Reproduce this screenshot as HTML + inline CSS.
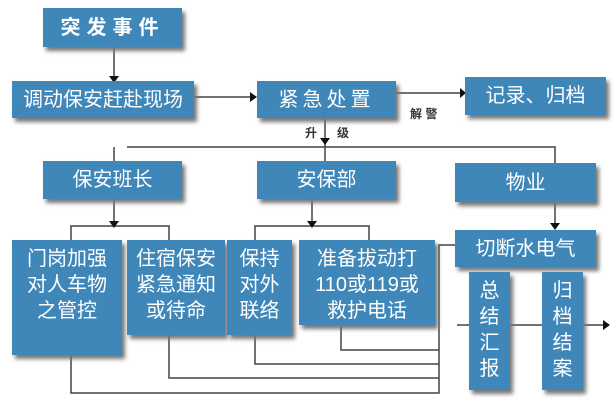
<!DOCTYPE html>
<html><head><meta charset="utf-8"><style>
body{margin:0;background:#fff;width:615px;height:414px;overflow:hidden;position:relative;font-family:"Liberation Sans","Noto Sans CJK SC",sans-serif}
.b{position:absolute;background:#3f86b9;color:#fff;box-shadow:3px 4px 4px #777;display:flex;align-items:center;justify-content:center;text-align:center;font-size:20px;line-height:26px}
.l{position:absolute;background:#555}
.t{position:absolute;font-size:12px;color:#333;font-weight:bold}
</style></head><body>
<svg style="position:absolute;left:0;top:0" width="615" height="414">
<g stroke="#444" stroke-width="1.5" fill="none">
<path d="M114 47V79"/>
<path d="M194 97H250"/>
<path d="M396 93H460"/>
<path d="M325 118V161"/>
<path d="M127 147H555V163"/>
<path d="M114 147V161"/>
<path d="M114 199V224"/>
<path d="M71 240V226H169V240"/>
<path d="M312 199V224"/>
<path d="M255 240V226H369V240"/>
<path d="M555 202V228"/>
<path d="M455 245H439V393H71V355"/>
<path d="M169 335V378H439"/>
<path d="M255 335V364H439"/>
<path d="M341 325V350H439"/>
<path d="M457 325H469M510 325H542M583 325H603"/>
</g>
<g fill="#111">
<path d="M109 76L119 76L114 83Z"/>
<path d="M250 92L250 102L257 97Z"/>
<path d="M460 88L460 98L466 93Z"/>
<path d="M320 138L330 138L325 145Z"/>
<path d="M109 221L119 221L114 228Z"/>
<path d="M307 221L317 221L312 228Z"/>
<path d="M550 223L560 223L555 230Z"/>
<path d="M603 320L603 330L610 325Z"/>
</g>
</svg>
<div class="b" style="left:43px;top:8px;width:139px;height:39px;font-weight:bold;letter-spacing:6px">突发事件</div>
<div class="b" style="left:12px;top:81px;width:182px;height:37px">调动保安赶赴现场</div>
<div class="b" style="left:257px;top:81px;width:139px;height:37px;letter-spacing:4px">紧急处置</div>
<div class="b" style="left:465px;top:77px;width:141px;height:38px">记录、归档</div>
<div class="t" style="left:410px;top:105px">解 警</div>
<div class="t" style="left:305px;top:124px">升</div>
<div class="t" style="left:337px;top:124px">级</div>
<div class="b" style="left:43px;top:161px;width:139px;height:38px">保安班长</div>
<div class="b" style="left:257px;top:161px;width:139px;height:38px">安保部</div>
<div class="b" style="left:455px;top:163px;width:141px;height:39px">物业</div>
<div class="b" style="left:12px;top:240px;width:110px;height:115px;align-items:flex-start;padding-top:6px;box-sizing:border-box">门岗加强<br>对人车物<br>之管控</div>
<div class="b" style="left:127px;top:240px;width:98px;height:95px;align-items:flex-start;padding-top:6px;box-sizing:border-box">住宿保安<br>紧急通知<br>或待命</div>
<div class="b" style="left:227px;top:240px;width:65px;height:95px;align-items:flex-start;padding-top:6px;box-sizing:border-box">保持<br>对外<br>联络</div>
<div class="b" style="left:299px;top:240px;width:136px;height:85px;align-items:flex-start;padding-top:6px;box-sizing:border-box">准备拔动打<br>110或119或<br>救护电话</div>
<div class="b" style="left:455px;top:230px;width:141px;height:37px">切断水电气</div>
<div class="b" style="left:469px;top:272px;width:41px;height:118px;align-items:flex-start;padding-top:6px;box-sizing:border-box">总<br>结<br>汇<br>报</div>
<div class="b" style="left:542px;top:272px;width:41px;height:118px;align-items:flex-start;padding-top:6px;box-sizing:border-box">归<br>档<br>结<br>案</div>
</body></html>
